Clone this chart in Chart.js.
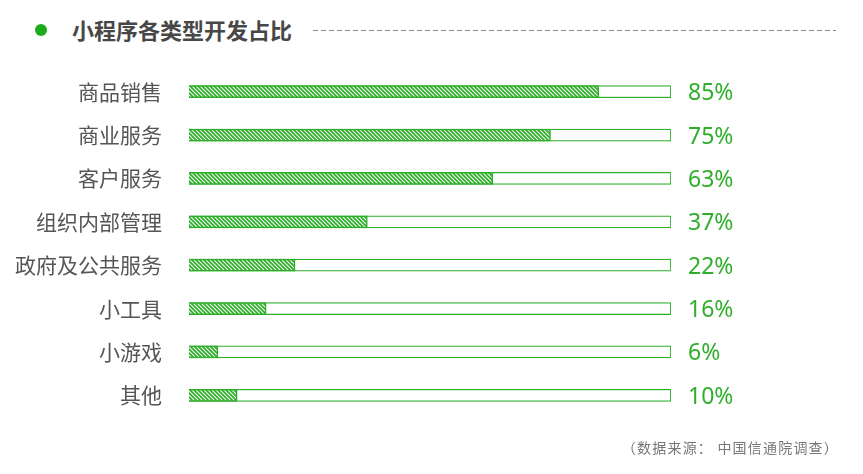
<!DOCTYPE html>
<html>
<head>
<meta charset="utf-8">
<script src="https://cdn.jsdelivr.net/npm/chart.js@4"></script>
<style>
  html, body { margin: 0; padding: 0; background: #fff; }
  body { width: 863px; height: 474px; position: relative; overflow: hidden;
         font-family: "Noto Sans CJK SC", "Noto Sans", sans-serif; }
  #dot { position: absolute; left: 35px; top: 24px; width: 12px; height: 12px;
         border-radius: 50%; background: #1aad19; }
  #title { position: absolute; left: 72px; top: 14px; font-size: 22px; font-weight: bold;
           color: #474747; line-height: 30px; letter-spacing: 0px; }
  #dash { position: absolute; left: 313px; top: 30px; width: 523px; height: 1px;
          background: repeating-linear-gradient(to right, #8a8a8a 0 5px, transparent 5px 8px); }
  #source { position: absolute; right: 24px; top: 436px; font-size: 14px; color: #777;
            line-height: 22px; letter-spacing: 1.2px; }
  #chartBox { position: absolute; left: 0; top: 0; width: 863px; height: 474px; }
</style>
</head>
<body>
<div id="dot"></div>
<div id="title">小程序各类型开发占比</div>
<div id="dash"></div>
<div id="chartBox"><canvas id="typeChart"></canvas></div>
<div id="source">（数据来源： 中国信通院调查）</div>
<script>
const categories = ["商品销售", "商业服务", "客户服务", "组织内部管理", "政府及公共服务", "小工具", "小游戏", "其他"];
const shares = [85, 75, 63, 37, 22, 16, 6, 10];
const fullTrack = [100, 100, 100, 100, 100, 100, 100, 100];

const green = "#2fae2a";

// diagonal hatch fill for the value bars
function makeHatch() {
  const c = document.createElement("canvas");
  c.width = 4;
  c.height = 4;
  const g = c.getContext("2d");
  g.fillStyle = "#ffffff";
  g.fillRect(0, 0, 4, 4);
  g.strokeStyle = green;
  g.lineWidth = 1.8;
  g.beginPath();
  g.moveTo(-1, -1); g.lineTo(5, 5);
  g.moveTo(-1, 3); g.lineTo(1, 5);
  g.moveTo(3, -1); g.lineTo(5, 1);
  g.stroke();
  return g.createPattern(c, "repeat");
}

// percent labels to the right of each track
const percentLabels = {
  id: "percentLabels",
  afterDatasetsDraw(chart) {
    const ctx = chart.ctx;
    const yScale = chart.scales.y;
    ctx.save();
    ctx.fillStyle = green;
    ctx.font = '23px "Noto Sans", "Noto Sans CJK SC", sans-serif';
    ctx.textAlign = "left";
    ctx.textBaseline = "middle";
    shares.forEach((v, i) => {
      ctx.fillText(v + "%", chart.chartArea.right + 17, yScale.getPixelForValue(i) + 2);
    });
    ctx.restore();
  }
};

document.addEventListener("DOMContentLoaded", function () {
  const ctx = document.getElementById("typeChart").getContext("2d");
  new Chart(ctx, {
    type: "bar",
    data: {
      labels: categories,
      datasets: [
        {
          data: shares,
          backgroundColor: makeHatch(),
          borderColor: green,
          borderWidth: 1.5,
          barThickness: 12,
          grouped: false,
          order: 0
        },
        {
          data: fullTrack,
          backgroundColor: "#ffffff",
          borderColor: green,
          borderWidth: 1.2,
          barThickness: 12,
          grouped: false,
          order: 1
        }
      ]
    },
    options: {
      indexAxis: "y",
      responsive: true,
      maintainAspectRatio: false,
      animation: false,
      layout: { padding: { top: 70, bottom: 57, left: 0, right: 192 } },
      plugins: {
        legend: { display: false },
        tooltip: { enabled: false }
      },
      scales: {
        x: { display: false, min: 0, max: 100 },
        y: {
          grid: { display: false },
          border: { display: false },
          afterFit: (scale) => { scale.width = 189; },
          ticks: {
            padding: 19,
            color: "#555",
            font: { size: 21, family: '"Noto Sans CJK SC", sans-serif' }
          }
        }
      }
    },
    plugins: [percentLabels]
  });
});
</script>
</body>
</html>
